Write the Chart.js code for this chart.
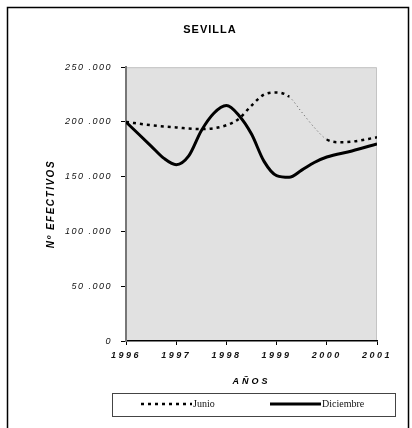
<!DOCTYPE html>
<html>
<head>
<meta charset="utf-8">
<script src="https://cdn.jsdelivr.net/npm/chart.js@4"></script>
<style>
html,body{margin:0;padding:0;background:#fff}
#chart{display:block}
</style>
</head>
<body>
<canvas id="chart" width="412" height="428"></canvas>
<script>
// Data (years, nº efectivos)
const yearTicks = [1996, 1997, 1998, 1999, 2000, 2001];
const junioYears = [1996, 1996.5, 1997, 1997.5, 1998, 1998.25, 1998.5, 1998.75, 1999, 1999.25, 1999.5, 1999.75, 2000, 2000.25, 2000.5, 2001];
const junioValues = [200000, 197000, 195000, 193500, 197000, 203000, 215000, 225000, 227000, 223000, 209000, 195000, 184000, 181500, 182000, 186000];
const diciembreYears = [1996, 1996.25, 1996.5, 1996.75, 1997, 1997.25, 1997.5, 1997.75, 1998, 1998.25, 1998.5, 1998.75, 1999, 1999.25, 1999.5, 1999.75, 2000, 2000.5, 2001];
const diciembreValues = [200000, 189000, 178000, 167000, 161000, 169000, 192000, 208000, 215000, 206000, 189000, 164000, 151000, 149500, 156000, 163000, 168000, 173500, 180000];
const seriesNames = ["Junio", "Diciembre"];

function points(xs, ys){
  return xs.map((x, i) => ({x: x, y: ys[i]}));
}

// junio line turns thin between these years
function thinPart(ctx){
  return ctx.p0.parsed.x >= 1999.25 && ctx.p1.parsed.x <= 2000;
}

function spaced(obj, name, sp){
  const f = obj[name];
  obj[name] = function(...args){
    const c = this.ctx;
    const old = c.letterSpacing;
    c.letterSpacing = sp;
    f.apply(this, args);
    c.letterSpacing = old;
  };
}

const frame = {
  id: 'frame',
  afterLayout(chart){
    if (chart.$spaced) return;
    chart.$spaced = true;
    spaced(chart.scales.x, 'drawLabels', '2.5px');
    spaced(chart.scales.x, 'drawTitle', '3px');
    spaced(chart.scales.y, 'drawLabels', '1.5px');
    spaced(chart.scales.y, 'drawTitle', '1.5px');
    if (chart.titleBlock) spaced(chart.titleBlock, 'draw', '1px');
  },
  beforeDraw(chart){
    const {ctx, chartArea: a} = chart;
    ctx.save();
    ctx.fillStyle = '#e1e1e1';
    ctx.fillRect(a.left, a.top, a.right - a.left, a.bottom - a.top);
    ctx.strokeStyle = '#c4c4c4';
    ctx.lineWidth = 1;
    ctx.beginPath();
    ctx.moveTo(a.left, a.top + 0.5);
    ctx.lineTo(a.right - 0.5, a.top + 0.5);
    ctx.lineTo(a.right - 0.5, a.bottom);
    ctx.stroke();
    // outer frame
    ctx.strokeStyle = '#000';
    ctx.lineWidth = 1.5;
    ctx.beginPath();
    ctx.moveTo(7.5, 432);
    ctx.lineTo(7.5, 7.5);
    ctx.lineTo(408.5, 7.5);
    ctx.lineTo(408.5, 432);
    ctx.stroke();
    ctx.restore();
  },
  afterDraw(chart){
    const ctx = chart.ctx;
    ctx.save();
    ctx.fillStyle = '#fff';
    ctx.fillRect(112.5, 393.5, 283, 23);
    ctx.strokeStyle = '#444';
    ctx.lineWidth = 1;
    ctx.strokeRect(112.5, 393.5, 283, 23);
    ctx.strokeStyle = '#000';
    ctx.setLineDash([3, 4]);
    ctx.lineWidth = 2.5;
    ctx.beginPath();
    ctx.moveTo(141, 404);
    ctx.lineTo(192, 404);
    ctx.stroke();
    ctx.setLineDash([]);
    ctx.lineWidth = 3;
    ctx.beginPath();
    ctx.moveTo(270, 404);
    ctx.lineTo(321, 404);
    ctx.stroke();
    ctx.fillStyle = '#111';
    ctx.font = '10px "Liberation Serif"';
    ctx.textBaseline = 'middle';
    ctx.fillText(seriesNames[0], 193, 404);
    ctx.fillText(seriesNames[1], 322, 404);
    ctx.restore();
  }
};

const ctx = document.getElementById('chart').getContext('2d');

const chart = new Chart(ctx, {
  type: 'line',
  data: {
    datasets: [{
      label: seriesNames[0],
      data: points(junioYears, junioValues),
      borderColor: '#000',
      borderWidth: 2.5,
      borderDash: [3, 4],
      pointRadius: 0,
      cubicInterpolationMode: 'monotone',
      segment: {
        borderWidth: c => thinPart(c) ? 1 : 2.5,
        borderDash: c => thinPart(c) ? [1, 3] : [3, 4],
        borderColor: c => thinPart(c) ? '#555' : '#000'
      }
    }, {
      label: seriesNames[1],
      data: points(diciembreYears, diciembreValues),
      borderColor: '#000',
      borderWidth: 3,
      pointRadius: 0,
      cubicInterpolationMode: 'monotone'
    }]
  },
  options: {
    responsive: false,
    animation: false,
    layout: { padding: { left: 43, right: 35, top: 0, bottom: 0 } },
    plugins: {
      legend: { display: false },
      tooltip: { enabled: false },
      title: {
        display: true,
        text: 'SEVILLA',
        color: '#000',
        font: { family: 'Liberation Sans', size: 11, weight: 'bold' },
        padding: { top: 23, bottom: 31 }
      }
    },
    scales: {
      x: {
        type: 'linear',
        min: yearTicks[0],
        max: yearTicks[yearTicks.length - 1],
        afterBuildTicks: s => { s.ticks = yearTicks.map(v => ({value: v})); },
        afterFit: s => { s.height = 87; },
        ticks: {
          color: '#111',
          padding: 5,
          maxRotation: 0,
          font: { family: 'Liberation Sans', size: 9, style: 'italic', weight: 'bold' },
          callback: v => String(v)
        },
        grid: { drawOnChartArea: false, color: '#000', tickLength: 4 },
        border: { color: '#000', width: 1.5 },
        title: {
          display: true,
          text: 'AÑOS',
          color: '#000',
          font: { family: 'Liberation Sans', size: 9, style: 'italic', weight: 'bold' },
          padding: { top: 0, bottom: 41 }
        }
      },
      y: {
        min: 0,
        max: 250000,
        afterFit: s => { s.width = 83; },
        ticks: {
          stepSize: 50000,
          color: '#111',
          padding: 9,
          font: { family: 'Liberation Sans', size: 9, style: 'italic' },
          callback: v => v === 0 ? '0' : (v / 1000) + ' .000'
        },
        grid: { drawOnChartArea: false, color: '#000', tickLength: 5 },
        border: { color: '#777', width: 2 },
        title: {
          display: true,
          text: 'Nº EFECTIVOS',
          color: '#000',
          font: { family: 'Liberation Sans', size: 10, style: 'italic', weight: 'bold' },
          padding: { top: 2, bottom: 0 }
        }
      }
    }
  },
  plugins: [frame]
});
chart.draw();
</script>
</body>
</html>
